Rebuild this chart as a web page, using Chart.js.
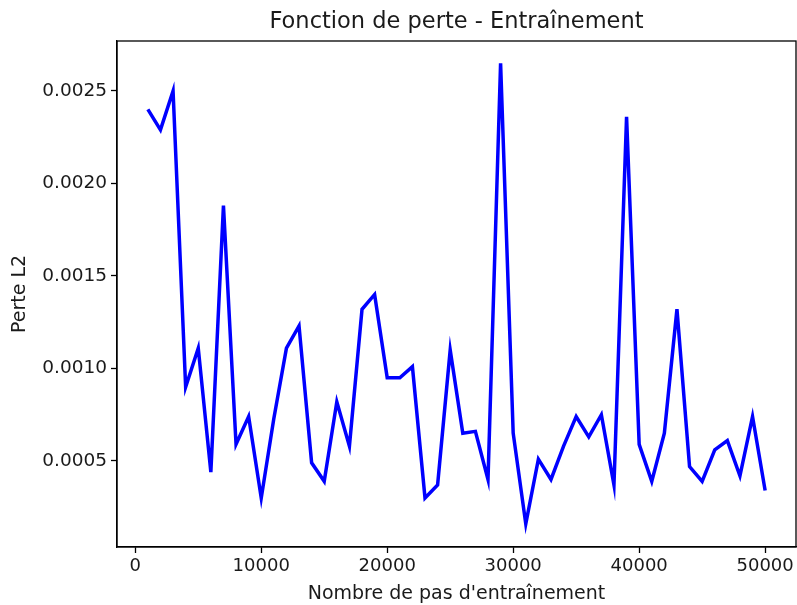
<!DOCTYPE html>
<html>
<head>
<meta charset="utf-8">
<script src="https://cdn.jsdelivr.net/npm/chart.js@4"></script>
<style>
  body { margin: 0; background: #fff; }
  #wrap { width: 797px; height: 605px; }
</style>
</head>
<body>
<div id="wrap"><canvas id="lossChart" width="797" height="605"></canvas></div>
<script>
// pas d'entrainement (x) et perte L2 (y)
const steps = [
  1000, 2000, 3000, 4000, 5000, 6000, 7000, 8000, 9000, 10000,
  11000, 12000, 13000, 14000, 15000, 16000, 17000, 18000, 19000, 20000,
  21000, 22000, 23000, 24000, 25000, 26000, 27000, 28000, 29000, 30000,
  31000, 32000, 33000, 34000, 35000, 36000, 37000, 38000, 39000, 40000,
  41000, 42000, 43000, 44000, 45000, 46000, 47000, 48000, 49000, 50000
];
const lossValues = [
  0.00240, 0.00229, 0.00250, 0.00090, 0.00111, 0.00044, 0.00188, 0.00059, 0.00074, 0.00030,
  0.00073, 0.00111, 0.00123, 0.00049, 0.00039, 0.00082, 0.00058, 0.00132, 0.00140, 0.00095,
  0.00095, 0.00101, 0.00030, 0.00037, 0.00110, 0.00065, 0.00066, 0.00040, 0.00265, 0.00065,
  0.00016, 0.00051, 0.00040, 0.00058, 0.00074, 0.00063, 0.00075, 0.00037, 0.00236, 0.00059,
  0.00039, 0.00065, 0.00132, 0.00047, 0.00039, 0.00056, 0.00061, 0.00042, 0.00074, 0.00034
];
const xTickValues = [0, 10000, 20000, 30000, 40000, 50000];
const yTickValues = [0.0005, 0.0010, 0.0015, 0.0020, 0.0025];

const points = steps.map((s, i) => ({ x: s, y: lossValues[i] }));
const font = "'DejaVu Sans', sans-serif";
const textColor = "#1a1a1a";

// cadre complet autour de la zone du graphique (haut et droite inclus)
// + titre centre sur la zone du graphique comme matplotlib
const frame = {
  id: "frame",
  afterLayout(chart) {
    const t = chart.titleBlock;
    if (t) {
      t.left = chart.chartArea.left;
      t.right = chart.chartArea.right;
      t.width = t.right - t.left;
    }
  },
  afterDraw(chart) {
    const a = chart.chartArea;
    const c = chart.ctx;
    c.save();
    c.strokeStyle = "#000";
    c.lineWidth = 1.3;
    c.strokeRect(a.left, a.top, a.right - a.left, a.bottom - a.top);
    c.restore();
  }
};

new Chart(document.getElementById("lossChart"), {
  type: "line",
  data: {
    datasets: [
      {
        data: points,
        borderColor: "#0000ff",
        borderWidth: 3.5,
        pointRadius: 0,
        tension: 0,
        fill: false,
      },
    ],
  },
  options: {
    responsive: false,
    animation: false,
    layout: { padding: { left: 0, right: 1, top: 0, bottom: 0 } },
    plugins: {
      legend: { display: false },
      tooltip: { enabled: false },
      title: {
        display: true,
        text: "Fonction de perte - Entraînement",
        color: textColor,
        font: { family: font, size: 22.5, weight: "normal", lineHeight: 1.2 },
        padding: { top: 9, bottom: 5 },
      },
    },
    scales: {
      x: {
        type: "linear",
        min: -1450,
        max: 52450,
        afterBuildTicks: (scale) => {
          scale.ticks = xTickValues.map((v) => ({ value: v }));
        },
        afterFit: (scale) => {
          scale.height = 58;
        },
        grid: {
          display: true,
          drawOnChartArea: false,
          drawTicks: true,
          tickLength: 6,
          tickColor: "#000",
          tickWidth: 1.3,
        },
        border: { display: true, color: "#000", width: 1.3 },
        ticks: {
          color: textColor,
          font: { family: font, size: 18 },
          padding: 3,
          maxRotation: 0,
          autoSkip: false,
          callback: (v) => String(v),
        },
        title: {
          display: true,
          text: "Nombre de pas d'entraînement",
          color: textColor,
          font: { family: font, size: 19 },
          padding: { top: 2, bottom: 0 },
        },
      },
      y: {
        min: 0.000035,
        max: 0.00277,
        afterBuildTicks: (scale) => {
          scale.ticks = yTickValues.map((v) => ({ value: v }));
        },
        afterFit: (scale) => {
          scale.width = 117;
        },
        grid: {
          display: true,
          drawOnChartArea: false,
          drawTicks: true,
          tickLength: 6,
          tickColor: "#000",
          tickWidth: 1.3,
        },
        border: { display: true, color: "#000", width: 1.3 },
        ticks: {
          color: textColor,
          font: { family: font, size: 18.5 },
          padding: 4,
          callback: (v) => v.toFixed(4),
        },
        title: {
          display: true,
          text: "Perte L2",
          color: textColor,
          font: { family: font, size: 19 },
          padding: { top: 9, bottom: 4 },
        },
      },
    },
  },
  plugins: [frame],
});
</script>
</body>
</html>
